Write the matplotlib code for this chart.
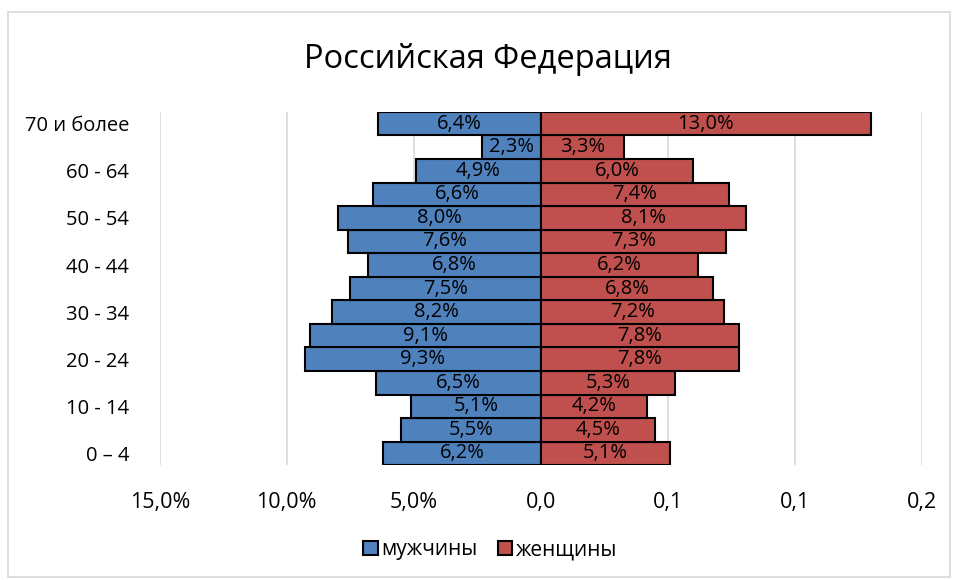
import matplotlib
matplotlib.use("Agg")
import matplotlib.pyplot as plt
from matplotlib.patches import Rectangle

# age groups, bottom to top
groups = ["0 – 4", "5 - 9", "10 - 14", "15 - 19", "20 - 24", "25 - 29", "30 - 34",
          "35 - 39", "40 - 44", "45 - 49", "50 - 54", "55 - 59", "60 - 64",
          "65 - 69", "70 и более"]
men = [6.2, 5.5, 5.1, 6.5, 9.3, 9.1, 8.2, 7.5, 6.8, 7.6, 8.0, 6.6, 4.9, 2.3, 6.4]
women = [5.1, 4.5, 4.2, 5.3, 7.8, 7.8, 7.2, 6.8, 6.2, 7.3, 8.1, 7.4, 6.0, 3.3, 13.0]

xticks = [-0.15, -0.10, -0.05, 0.0, 0.05, 0.10, 0.15]
xtick_labels = ["15,0%", "10,0%", "5,0%", "0,0", "0,1", "0,1", "0,2"]

blue = "#4F81BD"
red = "#C0504D"

plt.rcParams['font.family'] = ['Open Sans', 'DejaVu Sans']

fig = plt.figure(figsize=(9.57, 5.80), dpi=100)
ax = fig.add_axes([0.167, 0.198, 0.796, 0.609])

y = list(range(len(groups)))
m_vals = [-v / 100 for v in men]
w_vals = [v / 100 for v in women]

ax.barh(y, m_vals, height=1.0, color=blue, edgecolor="black", linewidth=1.5, label="мужчины", zorder=3)
ax.barh(y, w_vals, height=1.0, color=red, edgecolor="black", linewidth=1.5, label="женщины", zorder=3)

# data labels in the middle of each bar
for i in y:
    ax.text(m_vals[i] / 2, i, f"{men[i]:.1f}%".replace(".", ","), ha="center", va="center",
            fontsize=14.5, color="black", zorder=4)
    ax.text(w_vals[i] / 2, i, f"{women[i]:.1f}%".replace(".", ","), ha="center", va="center",
            fontsize=14.5, color="black", zorder=4)

ax.set_xlim(-0.15, 0.15)
ax.set_ylim(-0.5, len(groups) - 0.5)
ax.set_xticks(xticks)
ax.set_xticklabels(xtick_labels, fontsize=15.5)
ax.set_yticks(y[::2])
ax.set_yticklabels(groups[::2], fontsize=14.5)
ax.tick_params(axis="x", length=0, pad=19)
ax.tick_params(axis="y", length=0, pad=22)
ax.grid(axis="x", color="#D9D9D9", linewidth=1.2, zorder=0)
for s in ax.spines.values():
    s.set_visible(False)

fig.text(0.51, 0.897, "Российская Федерация", fontsize=23.5, ha="center", va="center")

fig.legend(loc="center", bbox_to_anchor=(0.512, 0.052), ncol=2, frameon=False,
           fontsize=15, handlelength=0.7, handleheight=0.7, handletextpad=0.15, columnspacing=1.0)

fig.patches.append(Rectangle((0.008, 0.005), 0.985, 0.975, transform=fig.transFigure,
                             fill=False, edgecolor="#D9D9D9", linewidth=1.2))

fig.savefig("out.png", dpi=100)
